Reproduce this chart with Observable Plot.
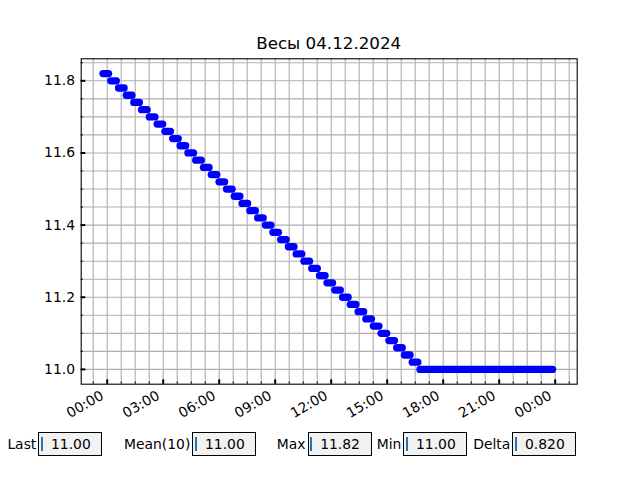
<!DOCTYPE html>
<html>
<head>
<meta charset="utf-8">
<script src="https://cdn.jsdelivr.net/npm/d3@7"></script>
<script src="https://cdn.jsdelivr.net/npm/@observablehq/plot@0.6"></script>
<style>
  body { margin: 0; background: #fff; font-family: "DejaVu Sans", sans-serif; }
  #wrap { position: relative; width: 640px; height: 480px; overflow: hidden; background: #fff; }
  #chart { position: absolute; left: 0; top: 0; }
  .title { position: absolute; left: 0; width: 657.4px; text-align: center; top: 34.9px;
           font-size: 16.7px; line-height: 16.7px; color: #000; white-space: nowrap; }
  .lbl { position: absolute; top: 432.3px; height: 24px; line-height: 24px; font-size: 13.9px;
         color: #000; text-align: right; white-space: nowrap; }
  .box { position: absolute; top: 432.3px; width: 64px; height: 24px; box-sizing: border-box;
         border: 1px solid #000; background: #f2f2f2; }
  .cur { position: absolute; left: 1.6px; top: 4.2px; width: 1.7px; height: 13.8px; background: #1f77b4; }
  .val { position: absolute; left: 11.7px; top: -1px; line-height: 24px; font-size: 13.9px; color: #000; white-space: nowrap; }
</style>
</head>
<body>
<div id="wrap">
  <div id="chart"></div>
  <div class="title" id="title"></div>
</div>
<script>
// ---- data ----
const chartTitle = "Весы 04.12.2024";
// weight level of each step (kg) and its start / end time (minutes from 00:00 of 04.12.2024)
const levelValue = [11.82,11.80,11.78,11.76,11.74,11.72,11.70,11.68,11.66,11.64,
                    11.62,11.60,11.58,11.56,11.54,11.52,11.50,11.48,11.46,11.44,
                    11.42,11.40,11.38,11.36,11.34,11.32,11.30,11.28,11.26,11.24,
                    11.22,11.20,11.18,11.16,11.14,11.12,11.10,11.08,11.06,11.04,
                    11.02,11.00];
const levelStart = [-12,13,38,63,87,112,137,162,187,212,
                    236,261,286,311,336,361,385,410,435,460,
                    485,510,534,559,584,609,634,659,684,708,
                    733,758,783,808,833,857,882,907,932,957,
                    982,1007];
const levelEnd   = [6,31,56,81,105,130,155,180,205,230,
                    254,279,304,329,354,379,403,428,453,478,
                    503,528,552,577,602,627,652,677,702,726,
                    751,776,801,826,851,875,900,925,950,975,
                    1000,1433];
// axis ticks
const xMajor = [0,180,360,540,720,900,1080,1260,1440];
const xLabels = ["00:00","03:00","06:00","09:00","12:00","15:00","18:00","21:00","00:00"];
const xMinor = [-45,0,45,90,135,180,225,270,315,360,405,450,495,540,585,630,675,720,765,
                810,855,900,945,990,1035,1080,1125,1170,1215,1260,1305,1350,1395,1440,1485];
const yMajor = [11.0,11.2,11.4,11.6,11.8];
const yLabels = ["11.0","11.2","11.4","11.6","11.8"];
const yMinor = [11.00,11.05,11.10,11.15,11.20,11.25,11.30,11.35,11.40,11.45,
                11.50,11.55,11.60,11.65,11.70,11.75,11.80,11.85];
// stat boxes
const statLabels = ["Last","Mean(10)","Max","Min","Delta"];
const statValues = ["11.00","11.00","11.82","11.00","0.820"];

// ---- layout ----
const W = 640, H = 480;
const mL = 80.7, mR = 640 - 576.7, mT = 58.3, mB = 480 - 383.7;
const fw = W - mL - mR, fh = H - mT - mB;
const boxLeft = [38.3, 192.3, 307.5, 403.3, 512.3];

const steps = levelValue.map((v, i) => ({v, s: levelStart[i], e: levelEnd[i]}));
const fs = 13.9;

const plot = Plot.plot({
  width: W, height: H,
  marginLeft: mL, marginRight: mR, marginTop: mT, marginBottom: mB,
  style: {fontFamily: "DejaVu Sans", background: "transparent", overflow: "visible"},
  x: {type: "linear", domain: [-83.6, 1510.7], axis: null},
  y: {type: "linear", domain: [10.959, 11.861], axis: null},
  marks: [
    Plot.ruleX(xMinor, {x: d => d, stroke: "#b0b0b0", strokeWidth: 1.1}),
    Plot.ruleY(yMinor, {y: d => d, stroke: "#b0b0b0", strokeWidth: 1.1}),
    Plot.ruleY(steps, {y: "v", x1: "s", x2: "e", stroke: "#0000ff", strokeWidth: 7.3, strokeLinecap: "round"}),
    Plot.tickX(xMinor, {x: d => d, insetTop: fh - 2.2, stroke: "#000", strokeWidth: 1}),
    Plot.tickX(xMajor, {x: d => d, insetTop: fh - 4.4, stroke: "#000", strokeWidth: 2}),
    Plot.tickY(yMinor, {y: d => d, insetRight: fw - 2.2, stroke: "#000", strokeWidth: 1}),
    Plot.tickY(yMajor, {y: d => d, insetRight: fw - 4.6, stroke: "#000", strokeWidth: 2}),
    Plot.frame({stroke: "#000", strokeWidth: 1.1}),
    Plot.text(yMajor, {y: d => d, text: (d, i) => yLabels[i], frameAnchor: "left", textAnchor: "end",
                       dx: -6.2, fontSize: fs, fill: "#000"}),
    Plot.text(xMajor, {x: d => d, text: (d, i) => xLabels[i], frameAnchor: "bottom", textAnchor: "end",
                       lineAnchor: "top", rotate: -30, dx: -7.5, dy: 5.5, fontSize: fs, fill: "#000"})
  ]
});
document.getElementById("chart").appendChild(plot);
document.getElementById("title").textContent = chartTitle;

const wrap = document.getElementById("wrap");
statLabels.forEach((lab, i) => {
  const l = document.createElement("div");
  l.className = "lbl";
  l.style.right = (W - boxLeft[i] + 2) + "px";
  l.textContent = lab;
  wrap.appendChild(l);
  const b = document.createElement("div");
  b.className = "box";
  b.style.left = boxLeft[i] + "px";
  const c = document.createElement("div"); c.className = "cur"; b.appendChild(c);
  const t = document.createElement("div"); t.className = "val"; t.textContent = statValues[i]; b.appendChild(t);
  wrap.appendChild(b);
});
</script>
</body>
</html>
